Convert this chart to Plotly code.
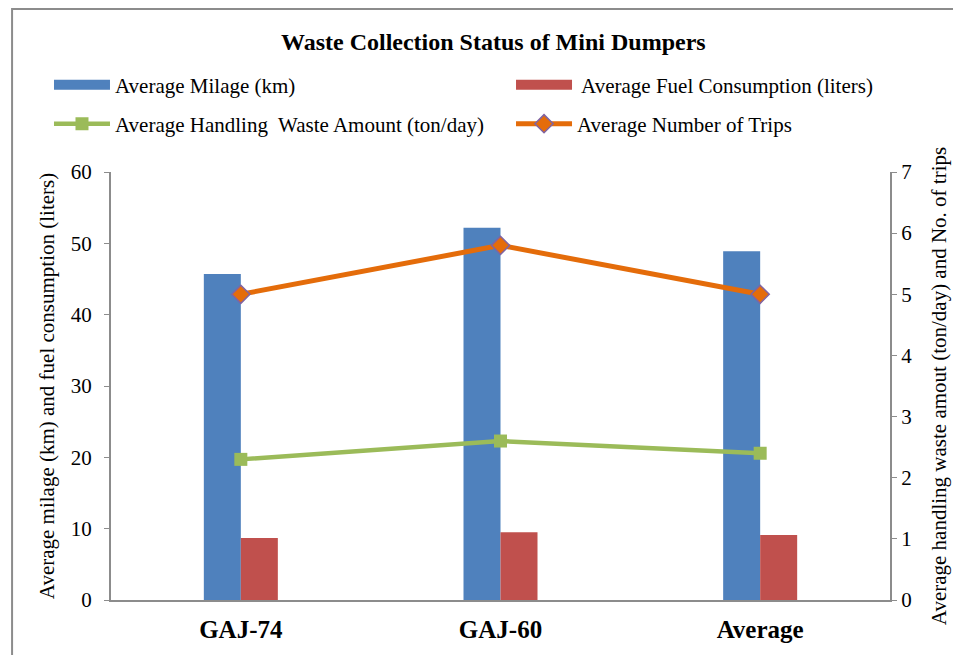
import plotly.graph_objs as go

categories = ["GAJ-74", "GAJ-60", "Average"]
milage_km = [45.7, 52.2, 48.9]
fuel_liters = [8.7, 9.5, 9.1]
waste_ton_day = [2.3, 2.6, 2.4]
num_trips = [5.0, 5.8, 5.0]

left_ticks = [0, 10, 20, 30, 40, 50, 60]
right_ticks = [0, 1, 2, 3, 4, 5, 6, 7]

serif = "Liberation Serif, Times New Roman, serif"
axis_grey = "#8c8c8c"
blue, red, green, orange = "#4f81bd", "#c0504d", "#9bbb59", "#e46c0a"

fig = go.Figure()
fig.add_trace(go.Bar(x=categories, y=milage_km, name="Average Milage (km)",
                     marker_color=blue, marker_line_width=0, showlegend=False))
fig.add_trace(go.Bar(x=categories, y=fuel_liters, name=" Average Fuel Consumption (liters)",
                     marker_color=red, marker_line_width=0, showlegend=False))
fig.add_trace(go.Scatter(
    x=categories, y=waste_ton_day, yaxis="y2", legend="legend3",
    name="Average Handling  Waste Amount (ton/day)",
    mode="lines+markers",
    line=dict(color=green, width=4.5),
    marker=dict(symbol="square", size=13, color=green)
))
fig.add_trace(go.Scatter(
    x=categories, y=num_trips, yaxis="y2", legend="legend4",
    name="Average Number of Trips",
    mode="lines+markers",
    line=dict(color=orange, width=5),
    marker=dict(symbol="diamond", size=14, color=orange,
                line=dict(color="#8064a2", width=1.5))
))
# legend-only entries so the bar keys look like wide blocks
fig.add_trace(go.Scatter(x=[None], y=[None], mode="lines", name="Average Milage (km)",
                         line=dict(color=blue, width=14), legend="legend"))
fig.add_trace(go.Scatter(x=[None], y=[None], mode="lines", name=" Average Fuel Consumption (liters)",
                         line=dict(color=red, width=14), legend="legend2"))


def key(x, y):
    return dict(x=x, y=y, xanchor="left", yanchor="middle", orientation="v",
                itemwidth=56, bgcolor="rgba(0,0,0,0)",
                font=dict(size=21, family=serif))


fig.update_layout(
    width=961, height=655,
    margin=dict(l=103, r=79, t=164, b=63),
    paper_bgcolor="white", plot_bgcolor="white",
    font=dict(family=serif, color="black", size=21),
    title=dict(text="<b>Waste Collection Status of Mini Dumpers</b>",
               x=0.505, xanchor="center", y=0.948, yanchor="middle",
               font=dict(size=24, family=serif)),
    barmode="group", bargap=0.715, bargroupgap=0,
    showlegend=True,
    legend=key(-0.0796, 1.203),
    legend2=key(0.5135, 1.203),
    legend3=key(-0.0796, 1.112),
    legend4=key(0.5135, 1.112),
    xaxis=dict(showgrid=False, showline=True, linecolor=axis_grey, linewidth=2,
               ticks="", tickfont=dict(size=25, family=serif, weight="bold"),
               ticklabelstandoff=6),
    yaxis=dict(range=[0, 60], tickvals=left_ticks, showgrid=False, zeroline=False,
               showline=True, linecolor=axis_grey, linewidth=2,
               ticks="outside", ticklen=5, tickcolor=axis_grey, tickwidth=1,
               ticklabelstandoff=8,
               title=dict(text="Average milage (km) and fuel consumption (liters)",
                          font=dict(size=21, family=serif), standoff=10)),
    yaxis2=dict(range=[0, 7], tickvals=right_ticks, overlaying="y", side="right",
                showgrid=False, zeroline=False,
                showline=True, linecolor=axis_grey, linewidth=2,
                ticks="outside", ticklen=5, tickcolor=axis_grey, tickwidth=1,
                title=dict(text="Average handling waste amout (ton/day) and No. of trips",
                           font=dict(size=21, family=serif), standoff=20)),
    shapes=[dict(type="rect", xref="paper", yref="paper",
                 x0=-0.127, x1=1.3, y0=-0.5, y1=1.381,
                 line=dict(color=axis_grey, width=2), layer="below")],
)

fig.write_html("out.html")
